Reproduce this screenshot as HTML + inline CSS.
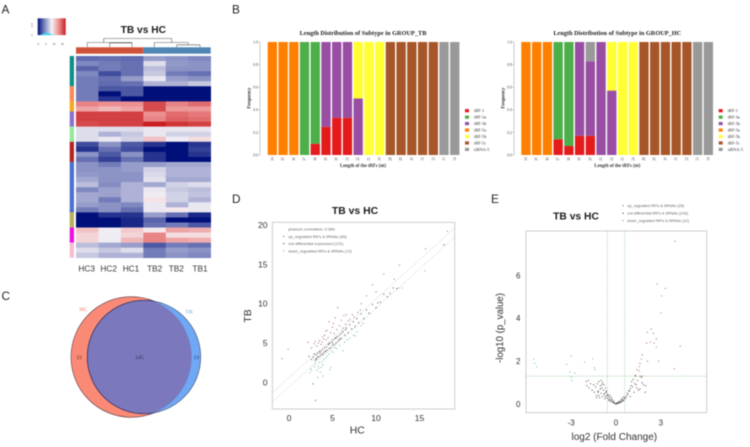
<!DOCTYPE html>
<html lang="en">
<head>
<meta charset="utf-8">
<title>TB vs HC figure</title>
<style>
html,body{margin:0;padding:0;background:#fff}
#fig{display:block;width:750px;height:447px;filter:blur(.5px)}
text{font-family:"Liberation Sans",Arial,sans-serif}
.s{font-family:"Liberation Serif","Times New Roman",serif}
</style>
</head>
<body>
<svg id="fig" xmlns="http://www.w3.org/2000/svg" width="750" height="447" viewBox="0 0 750 447">
<defs>
<linearGradient id="cbar" x1="0" x2="1" y1="0" y2="0">
<stop offset="0" stop-color="#00107a"/><stop offset=".25" stop-color="#7f88c0"/><stop offset=".5" stop-color="#f6f2f6"/><stop offset=".75" stop-color="#ec8f90"/><stop offset="1" stop-color="#c81e20"/>
</linearGradient>
<clipPath id="hcClip"><circle cx="131.3" cy="357" r="60.3"/></clipPath>
</defs>
<rect width="750" height="447" fill="#fff"/>

<g font-size="11.8" fill="#222">
<text x="1.5" y="13.5">A</text>
<text x="232" y="13.5">B</text>
<text x="1.5" y="300">C</text>
<text x="232" y="203">D</text>
<text x="491" y="203">E</text>
</g>

<!-- Panel A -->
<g id="panelA">
<rect x="37.7" y="18.3" width="28" height="16.8" fill="url(#cbar)"/>
<path d="M37.7 35.1L42 34.6L44 33.4L46 32.6L48 32.8L50 33.9L53 34.7L56 35.1Z" fill="#35d8ee"/>
<g font-size="2.8" fill="#555" text-anchor="middle">
<text x="38.3" y="45">0</text><text x="46" y="45">5</text><text x="54" y="45">10</text><text x="62.3" y="45">15</text>
<text x="33" y="25" transform="rotate(-90 33 25)">0.5</text><text x="33" y="35" transform="rotate(-90 33 35)">0</text>
</g>
<text x="143.3" y="33.2" font-size="10.2" font-weight="bold" fill="#1c1c1c" text-anchor="middle">TB vs HC</text>
<path d="M103.7 38.5H171.7M103.7 38.5V42.5M171.7 38.5V42.5M87.3 42.5H132M87.3 42.5V47.3M132 42.5V47.3M109.7 43H132M109.7 43V47.3M154.3 42.5H188.3M154.3 42.5V47.3M188.3 42.5V44.8M176.7 44.8H200M176.7 44.8V47.3M200 44.8V47.3" fill="none" stroke="#555" stroke-width=".55"/>
<rect x="76" y="47.3" width="67.3" height="6.4" fill="#cf5138"/>
<rect x="143.3" y="47.3" width="67.4" height="6.4" fill="#4f86b4"/>
<g font-size="8.3" fill="#333" text-anchor="middle">
<text x="86.7" y="271.3">HC3</text>
<text x="108.7" y="271.3">HC2</text>
<text x="131" y="271.3">HC1</text>
<text x="154.7" y="271.3">TB2</text>
<text x="176.3" y="271.3">TB2</text>
<text x="200" y="271.3">TB1</text>
</g>
</g>

<!-- Panel C -->
<g>
<circle cx="131.3" cy="357" r="60.3" fill="#fa8a76" stroke="#5a3a4a" stroke-width=".6"/>
<circle cx="144" cy="357" r="56.7" fill="#6fa8f5" stroke="#3a4a6a" stroke-width=".6"/>
<circle cx="144" cy="357" r="56.7" fill="#7b78bd" stroke="#2b2a5a" stroke-width=".7" clip-path="url(#hcClip)"/>
<g class="s" font-size="5.6" text-anchor="middle">
<text class="s" x="83.3" y="311" fill="#e8735a">HC</text>
<text class="s" x="189" y="313.5" fill="#6e9ccc">TB</text>
<text class="s" x="79" y="359" fill="#4a3030">33</text>
<text class="s" x="139.3" y="359" fill="#2c2a50">145</text>
<text class="s" x="196.3" y="359" fill="#2c3050">13</text>
</g>
</g>

<g id="panelB1"></g>
<g id="panelB2"></g>

<!-- Panel D frame -->
<g id="panelD">
<text x="355" y="214" font-size="10.4" font-weight="bold" fill="#1c1c1c" text-anchor="middle">TB vs HC</text>
<rect x="272.3" y="222.3" width="182.4" height="186.7" fill="#fff" stroke="#c9c9c9" stroke-width=".9"/>
<text x="357.3" y="433.7" font-size="10.4" fill="#333" text-anchor="middle">HC</text>
<text x="251" y="316" font-size="10.4" fill="#333" text-anchor="middle" transform="rotate(-90 251 316)">TB</text>
<g font-size="4" fill="#666">
<text x="288.3" y="230.6">pearson correlation: 0.984</text>
<circle cx="283.7" cy="236.4" r=".6" fill="#a0524f"/>
<text x="288.3" y="238">up_regulated tRFs &amp; tiRNAs (85)</text>
<circle cx="283.7" cy="243.5" r=".6" fill="#333"/>
<text x="288.3" y="245">not differential expressed (121)</text>
<circle cx="283.7" cy="250.8" r=".6" fill="#4fb38a"/>
<text x="288.3" y="252.3">down_regulated tRFs &amp; tiRNAs (72)</text>
</g>
</g>

<!-- Panel E frame -->
<g id="panelE">
<text x="576" y="219.3" font-size="10.3" font-weight="bold" fill="#1c1c1c" text-anchor="middle">TB vs HC</text>
<rect x="526" y="231" width="180.7" height="181.7" fill="#fff" stroke="#c9c9c9" stroke-width=".9"/>
<text x="614.3" y="440" font-size="10" fill="#333" text-anchor="middle">log2 (Fold Change)</text>
<text x="503" y="328" font-size="9.7" fill="#333" text-anchor="middle" transform="rotate(-90 503 328)">-log10 (p_value)</text>
<g font-size="3.9" fill="#666">
<circle cx="623" cy="205.6" r=".6" fill="#a0524f"/>
<text x="627.3" y="207">up_regulated tRFs &amp; tiRNAs (28)</text>
<circle cx="623" cy="213.2" r=".6" fill="#333"/>
<text x="627.3" y="214.6">not differential tRFs &amp; tiRNAs (218)</text>
<circle cx="623" cy="220.6" r=".6" fill="#4fb38a"/>
<text x="627.3" y="222">down_regulated tRFs &amp; tiRNAs (12)</text>
</g>
</g>
</svg>

<script>
// ---------- Panel A data ----------
const heatRows = [
[-.62,-.6,-.62,-.4,-.45,-.5],[-.5,-.55,-.6,-.1,-.42,-.45],[-.65,-.55,-.6,-.25,-.45,-.45],[-.5,-.75,-.6,-.2,-.55,-.6],[-.55,-.6,-.4,-.05,-.4,-.45],[-.55,-.62,-.6,-.3,-.3,-.2],
[-.55,-.7,-.7,-1,-1,-1],[-.55,-1,-.7,-1,-1,-1],[-.55,-.85,-1,-1,-1,-1],
[.55,.5,.5,.8,.55,.65],[.4,.3,.4,.8,.45,.45],
[.85,.85,.85,.5,.65,.6],[.85,.85,.85,.55,.7,.65],[.8,.85,.85,1,.9,.85],
[-.1,-.1,-.1,-.05,-.05,-.05],[-.1,-.3,-.2,-.05,-.15,-.15],[-.1,-.05,-.15,.25,-.03,.1],
[-.75,-.45,-.7,-.85,-1,-.85],[-.85,-.6,-.75,-1,-1,-.8],[-.45,-.7,-.45,-.85,-1,-.85],[-.6,-.8,-.6,-.85,-1,-1],
[-.45,-.55,-.4,-.4,-.35,-.35],[-.45,-.45,-.4,-.15,-.3,-.3],[-.42,-.45,-.45,-.12,-.3,-.3],[-.35,-.45,-.45,-.08,-.35,-.35],[-.25,-.48,-.3,-.35,-.15,-.1],[-.5,-.38,-.3,-.05,-.2,-.25],[-.35,-.38,-.3,-.03,-.15,-.22],[-.35,-.55,-.3,.08,-.15,-.3],[-.4,-.45,-.5,-.05,-.3,-.05],[-.55,-.45,-.6,-.05,.05,-.05],
[-1,-.85,-.85,-.4,-.6,-.9],[-1,-1,-.9,-.65,-1,-1],[-1,-1,-.9,-.6,-.55,-.7],
[.25,-.03,.2,.05,.4,.35],[.15,-.03,.15,.55,.1,.1],[.15,-.03,.3,.55,.4,.35],
[-.25,-.35,-.4,-.7,-.55,-.6],[-.1,-.2,-.1,-.55,-.4,-.45],[-.2,-.3,-.3,-.55,-.45,-.5]];
const rowGroupSizes = [6,3,2,3,3,4,10,3,3,3];
const rowGroupColors = ['#0f8f88','#f58a55','#f2a91d','#8e70d0','#96e89a','#b52424','#4a70d0','#b9b05a','#ee10e0','#f6bcd0'];

// ---------- Panel B data ----------
const lengths = ['14','15','16','17','18','19','20','21','22','23','24','28','29','30','31','32','33','34'];
const subtypeNames = ['tRF-1','tRF-3a','tRF-3b','tRF-5a','tRF-5b','tRF-5c','tiRNA-5'];
const subtypeColors = ['#e41a1c','#4daf4a','#984ea3','#ff7f00','#ffff33','#a65628','#999999'];
const freqTicks = [0,0.2,0.4,0.6,0.8,1];
const tbTrf1  = [0,0,0,0,.1,.25,.33,.33,0,0,0,0,0,0,0,0,0,0];
const tbTrf3a = [0,0,0,1,.9,0,0,0,0,0,0,0,0,0,0,0,0,0];
const tbTrf3b = [0,0,0,0,0,.75,.67,.67,.5,0,0,0,0,0,0,0,0,0];
const tbTrf5a = [1,1,1,0,0,0,0,0,0,0,0,0,0,0,0,0,0,0];
const tbTrf5b = [0,0,0,0,0,0,0,0,.5,1,1,0,0,0,0,0,0,0];
const tbTrf5c = [0,0,0,0,0,0,0,0,0,0,0,1,1,1,1,1,0,0];
const tbTirna = [0,0,0,0,0,0,0,0,0,0,0,0,0,0,0,0,1,1];
const hcTrf1  = [0,0,0,.14,.08,.17,.17,0,0,0,0,0,0,0,0,0,0,0];
const hcTrf3a = [0,0,0,.86,.92,0,0,0,0,0,0,0,0,0,0,0,0,0];
const hcTrf3b = [0,0,0,0,0,.83,.66,1,.57,0,0,0,0,0,0,0,0,0];
const hcTrf5a = [1,1,1,0,0,0,0,0,0,0,0,0,0,0,0,0,0,0];
const hcTrf5b = [0,0,0,0,0,0,0,0,.43,1,1,0,0,0,0,0,0,0];
const hcTrf5c = [0,0,0,0,0,0,0,0,0,0,0,1,1,1,1,1,0,0];
const hcTirna = [0,0,0,0,0,0,.17,0,0,0,0,0,0,0,0,0,1,1];

// ---------- Panel D data ----------
const scatterXTicks = [0,5,10,15];
const scatterYTicks = [0,5,10,15,20];
const upHC = [-0.8,-0.1,2.2,2.6,2.9,3.0,3.2,3.4,3.5,3.7,3.8,3.9,4.0,4.1,4.2,4.3,4.4,4.5,4.6,4.8,5.0,5.1,5.2,5.3,5.5,5.6,5.8,6.0,6.2,6.3,6.5,6.6,6.8,7.0,7.3,7.5,7.9,8.2,8.3,8.9,9.6,10.0,10.9,12.1,12.7,15.7,18.2];
const upTB = [3.0,4.2,5.1,4.4,4.9,5.2,4.6,5.0,5.3,4.8,5.1,5.8,5.5,6.0,6.5,5.4,6.6,5.7,7.7,6.3,7.0,7.5,6.2,8.2,6.7,9.5,7.2,7.9,6.9,8.5,7.4,8.6,7.8,8.0,8.6,8.3,8.9,9.2,10.0,11.0,12.4,11.5,13.8,13.1,14.9,17.0,19.2];
const notHC = [2.3,2.6,2.8,2.9,3.0,3.1,3.2,3.3,3.4,3.5,3.6,3.7,3.8,3.9,4.0,4.1,4.2,4.3,4.4,4.5,4.6,4.7,4.8,4.9,5.0,5.1,5.2,5.3,5.4,5.5,5.6,5.7,5.8,5.9,6.0,6.2,6.4,6.6,6.8,7.0,7.2,7.4,7.6,7.8,8.0,8.3,8.6,8.9,9.2,9.6,10.0,10.2,10.5,10.9,11.3,11.6,12.0,12.4,17.8,3.1,3.3,3.6,3.9,4.2,4.6,5.0,5.4,5.8,6.1,6.5];
const notTB = [3.3,2.9,3.2,3.6,2.8,3.5,3.0,3.7,3.2,3.9,3.4,4.0,3.5,4.2,3.8,4.4,3.9,4.5,4.1,4.8,4.3,5.0,4.4,5.2,4.7,5.4,4.8,5.6,5.0,5.8,5.2,5.9,5.4,6.1,5.6,6.5,6.0,6.9,6.3,7.3,6.8,7.7,7.1,8.1,7.6,8.7,8.1,9.2,8.8,9.9,9.5,10.1,10.2,11.2,10.9,11.3,12.0,11.9,17.5,3.0,3.3,3.7,3.6,4.0,4.9,5.0,5.6,5.5,6.3,6.7];
const downHC = [2.4,2.5,2.6,2.9,3.0,3.1,3.2,3.3,3.4,3.5,3.6,3.7,3.8,3.9,3.3,3.9,4.0,4.2,4.4,4.7,4.8,4.6,4.9,5.1,5.3,5.5,5.8,6.2,6.4,6.7,7.0,7.4,7.6,7.8,8.3,8.5,12.6,13.0,15.6,2.7,2.8,3.0,3.1];
const downTB = [1.2,1.7,1.5,2.0,2.4,2.8,1.5,2.1,1.8,2.5,1.3,1.9,2.6,2.2,0.6,0.8,2.9,3.1,3.3,1.6,1.9,3.6,3.9,3.8,4.4,4.3,4.7,4.0,5.1,5.4,5.6,6.0,5.9,6.4,7.2,7.5,12.0,12.0,14.2,-0.2,-0.2,-2.3,-2.3];

// ---------- Panel E data ----------
const volcanoXTicks = [-3,0,3];
const volcanoYTicks = [0,2,4,6];
const volUpFC = [3.95,2.75,3.3,3.05,3.0,2.35,2.1,2.5,2.7,2.3,2.05,2.55,2.7,4.3,2.85,2.1,3.9,1.75,1.7,1.6,1.55,1.4,1.55,1.3,1.6,1.75];
const volUpP  = [7.6,5.6,5.4,5.05,4.25,3.5,3.35,3.3,3.05,2.9,2.85,2.85,2.65,2.7,2.0,2.0,1.65,2.3,2.1,1.9,1.75,1.6,1.55,1.35,1.3,1.3];
const volDownFC = [-5.5,-5.45,-5.3,-3.0,-3.3,-3.1,-2.75,-3.0,-2.95,-2.1,-1.55,-1.45,-1.4];
const volDownP  = [2.1,1.9,1.75,2.25,1.85,1.5,1.45,1.25,1.1,1.95,2.1,1.7,1.6];
const volNotFC = [-2.0,-1.95,-1.85,-1.8,-1.7,-1.6,-1.5,-1.45,-1.35,-1.3,-1.25,-1.2,-1.15,-1.1,-1.05,-1.0,-1.0,-0.95,-0.9,-0.9,-0.85,-0.8,-0.8,-0.75,-0.7,-0.7,-0.65,-0.6,-0.6,-0.55,-0.5,-0.5,-0.45,-0.45,-0.4,-0.4,-0.35,-0.3,-0.3,-0.25,-0.25,-0.2,-0.15,-0.15,-0.1,-0.05,0,0.05,0.05,0.1,0.15,0.15,0.2,0.25,0.25,0.3,0.35,0.35,0.4,0.4,0.45,0.5,0.5,0.55,0.6,0.65,0.7,0.75,0.8,0.85,0.9,0.95,1.0,1.05,1.1,1.15,1.2,1.3,1.35,1.4,1.45,1.5,1.7,1.85,1.95,2.0,-1.2,-1.05,-0.95,-0.75,-0.65,-1.3,-1.15,0.95,1.25,1.6,1.75];
const volNotP  = [1.05,0.85,1.1,0.75,0.95,0.65,0.9,0.55,0.8,0.4,0.95,0.6,1.05,0.3,0.85,1.1,0.5,0.75,1.0,0.35,0.65,0.9,0.45,0.25,0.75,0.35,0.55,0.4,0.28,0.45,0.2,0.38,0.3,0.16,0.4,0.22,0.12,0.3,0.18,0.1,0.2,0.08,0.06,0.13,0.04,0.02,0,0.01,0.04,0.05,0.03,0.09,0.07,0.06,0.14,0.1,0.09,0.2,0.13,0.26,0.18,0.16,0.32,0.22,0.3,0.28,0.38,0.5,0.45,0.62,0.6,0.72,0.85,1.05,0.8,1.15,0.55,1.3,0.9,0.75,1.1,0.65,1.25,0.9,0.55,0.85,0.55,0.7,0.9,0.5,0.6,0.3,0.4,0.35,0.95,0.7,1.0];

// ---------- helpers ----------
const NS = 'http://www.w3.org/2000/svg';
function mk(tag, attrs, parent, txt){
  const n = document.createElementNS(NS, tag);
  for (const k in attrs) n.setAttribute(k, attrs[k]);
  if (txt !== undefined) n.textContent = txt;
  parent.appendChild(n);
  return n;
}
function heatColor(v){
  const stops = [[-1,0,16,122],[-.5,127,136,192],[0,246,242,246],[.5,236,143,144],[1,200,30,32]];
  const c = Math.max(-1, Math.min(1, v));
  for (let i = 0; i < stops.length - 1; i++){
    if (c <= stops[i+1][0]){
      const t = (c - stops[i][0]) / (stops[i+1][0] - stops[i][0]);
      const m = j => Math.round(stops[i][j] + t * (stops[i+1][j] - stops[i][j]));
      return 'rgb(' + m(1) + ',' + m(2) + ',' + m(3) + ')';
    }
  }
  return '#c81e20';
}

// ---------- Panel A ----------
const gA = document.getElementById('panelA');
const heatX = c => 76 + c * 22.45;
const heatY = r => 56 + r * 5.045;
heatRows.forEach((row, r) => {
  row.forEach((v, c) => {
    const el = mk('rect', {x: heatX(c), y: heatY(r), width: 22.75, height: 5.3, fill: heatColor(v)}, gA);
    
    
  });
});
let groupStart = 0;
rowGroupSizes.forEach((n, i) => {
  const el = mk('rect', {x: 69.7, y: heatY(groupStart), width: 4.3, height: n * 5.045, fill: rowGroupColors[i]}, gA);
  
  
  groupStart += n;
});

// ---------- Panel B ----------
function drawBars(host, cfg){
  const yF = f => 155 - f * 113;
  const xB = i => cfg.x0 + i * 10.73;
  const title = mk('text', {x: cfg.cx, y: 35, 'font-size': 6.3, 'font-weight': 'bold', 'text-anchor': 'middle', fill: '#222', class: 's'}, host, cfg.title);
  
  
  const axis = mk('path', {d: 'M' + cfg.axisX + ' 42V155', stroke: '#b4b4cc', 'stroke-width': .7, fill: 'none'}, host);
  
  
  freqTicks.forEach(t => {
    const tick = mk('path', {d: 'M' + (cfg.axisX - 1.5) + ' ' + yF(t) + 'H' + cfg.axisX, stroke: '#999', 'stroke-width': .5}, host);
    
    
    const lab = mk('text', {x: cfg.axisX - 2, y: yF(t) + 1.4, 'font-size': 3.9, 'text-anchor': 'end', fill: '#444', class: 's'}, host, t.toFixed(1));
    
    
  });
  lengths.forEach((len, i) => {
    let base = 0;
    cfg.series.forEach((vals, s) => {
      const v = vals[i];
      if (v > 0){
        const bar = mk('rect', {x: xB(i), y: yF(base + v), width: 9.3, height: v * 113, fill: subtypeColors[s]}, host);
        
        
        base += v;
      }
    });
    const cx = xB(i) + 4.65;
    const lab = mk('text', {x: cx, y: 160, 'font-size': 3.6, 'text-anchor': 'middle', fill: '#444', class: 's', transform: 'rotate(-90 ' + cx + ' 159)'}, host, len);
    
    
  });
  const xt = mk('text', {x: cfg.cx, y: 167, 'font-size': 4.7, 'font-weight': 'bold', 'text-anchor': 'middle', fill: '#333', class: 's'}, host, 'Length of the tRFs (nt)');
  
  
  const yt = mk('text', {x: cfg.freqX, y: 98, 'font-size': 4.7, 'font-weight': 'bold', 'text-anchor': 'middle', fill: '#333', class: 's', transform: 'rotate(-90 ' + cfg.freqX + ' 98)'}, host, 'Frequency');
  
  
  subtypeNames.forEach((nm, s) => {
    const y = 110.7 + s * 6.45;
    const sw = mk('rect', {x: cfg.legX - 2, y: y - 1.6, width: 4, height: 3.2, fill: subtypeColors[s]}, host);
    
    
    const t = mk('text', {x: cfg.legX + 7, y: y + 1.5, 'font-size': 4.4, fill: '#333', class: 's'}, host, nm);
    
    
  });
}
drawBars(document.getElementById('panelB1'), {title: 'Length Distribution of Subtype in GROUP_TB', x0: 267.7, axisX: 260, cx: 363, freqX: 250.5, legX: 467,
  series: [tbTrf1, tbTrf3a, tbTrf3b, tbTrf5a, tbTrf5b, tbTrf5c, tbTirna]});
drawBars(document.getElementById('panelB2'), {title: 'Length Distribution of Subtype in GROUP_HC', x0: 521.3, axisX: 514, cx: 617.3, freqX: 504.5, legX: 720.7,
  series: [hcTrf1, hcTrf3a, hcTrf3b, hcTrf5a, hcTrf5b, hcTrf5c, hcTirna]});

// ---------- Panel D ----------
const gD = document.getElementById('panelD');
const xD = v => 289 + v * 8.7;
const yD = v => 382.3 - v * 7.86;
scatterXTicks.forEach(t => {
  const lab = mk('text', {x: xD(t), y: 421, 'font-size': 8.6, 'text-anchor': 'middle', fill: '#333'}, gD, t);
  
  
});
scatterYTicks.forEach(t => {
  const lab = mk('text', {x: 267.5, y: yD(t) + 3, 'font-size': 8.6, 'text-anchor': 'end', fill: '#333'}, gD, t);
  
  
});
[0.585, -0.585].forEach(off => {
  const line = mk('line', {x1: xD(-1.9), y1: yD(-1.9 + off), x2: xD(19), y2: yD(19 + off), stroke: '#aaa', 'stroke-width': .5, 'stroke-dasharray': '1 1'}, gD);
  
  
});
function dotsD(xs, ys, color){
  xs.forEach((x, i) => {
    const pt = mk('circle', {cx: xD(x), cy: yD(ys[i]), r: .6, fill: color, opacity: .8}, gD);
    
    
  });
}
dotsD(upHC, upTB, '#9a4f50');
dotsD(downHC, downTB, '#4fb38a');
dotsD(notHC, notTB, '#333');

// ---------- Panel E ----------
const gE = document.getElementById('panelE');
const xE = v => 616 + v * 14.95;
const yE = v => 404 - v * 21.4;
volcanoXTicks.forEach(t => {
  const lab = mk('text', {x: xE(t), y: 425.5, 'font-size': 8, 'text-anchor': 'middle', fill: '#333'}, gE, t);
  
  
});
volcanoYTicks.forEach(t => {
  const lab = mk('text', {x: 520.5, y: yE(t) + 2.8, 'font-size': 8, 'text-anchor': 'end', fill: '#333'}, gE, t);
  
  
});
[-0.585, 0.585].forEach(v => {
  const line = mk('line', {x1: xE(v), y1: 231, x2: xE(v), y2: 412.7, stroke: '#8cc58c', 'stroke-width': .6, 'stroke-dasharray': '1.2 1'}, gE);
  
  
});
const pLine = mk('line', {x1: 526, y1: yE(1.3), x2: 706.7, y2: yE(1.3), stroke: '#8cc58c', 'stroke-width': .6, 'stroke-dasharray': '1.2 1'}, gE);


function dotsE(xs, ys, color){
  xs.forEach((x, i) => {
    const pt = mk('circle', {cx: xE(x), cy: yE(ys[i]), r: .6, fill: color, opacity: .8}, gE);
    
    
  });
}
dotsE(volUpFC, volUpP, '#9a4f50');
dotsE(volDownFC, volDownP, '#4fb38a');
dotsE(volNotFC, volNotP, '#333');
</script>
</body>
</html>
